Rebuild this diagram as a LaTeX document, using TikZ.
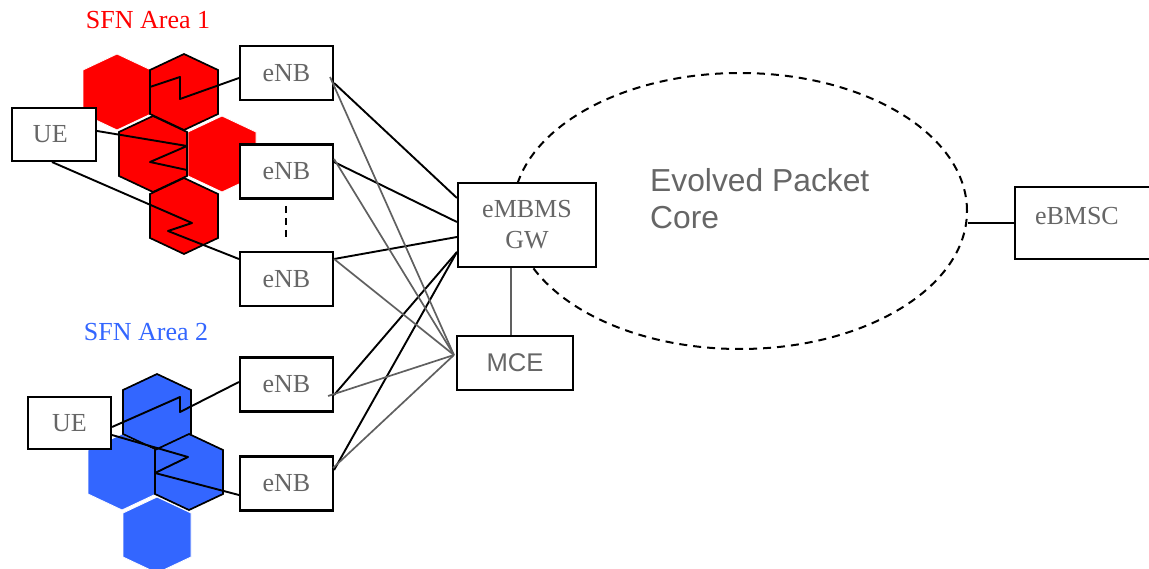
\documentclass[tikz,border=0pt]{standalone}
\usepackage{fontspec}
\setmainfont{Liberation Serif}
\setsansfont{Liberation Sans}
\usepackage{tikz}
\usetikzlibrary{calc}
\usetikzlibrary{shapes.geometric}

\definecolor{rougesfn}{RGB}{255,0,0}
\definecolor{bleusfn}{RGB}{51,102,255}
\definecolor{gristexte}{RGB}{102,102,102}
\definecolor{grislien}{RGB}{96,96,96}

% hexagone : options, centre x, centre y
\newcommand{\hexagone}[3]{\filldraw[#1] (#2,#3-\demihaut) -- (#2+\demilarg,#3-\demicote) -- (#2+\demilarg,#3+\demicote) -- (#2,#3+\demihaut) -- (#2-\demilarg,#3+\demicote) -- (#2-\demilarg,#3-\demicote) -- cycle;}

\begin{document}
\begin{tikzpicture}[x=1pt, y=-1pt,
	boite/.style={draw, line width=2.1pt, fill=white, text=gristexte,
		font=\fontsize{26}{31}\selectfont, inner sep=0pt,
		minimum width=93pt, minimum height=54pt},
	lien/.style={line width=1.9pt, black, line join=round},
	liengris/.style={line width=1.7pt, grislien},
	hexplein/.style={line width=1.7pt, draw=black},
	hexnu/.style={line width=0.8pt, draw=white}]

%%%%%%%%%%%%%%%%%%%%%%
%%%	 Def géométrie  %%%
%%%%%%%%%%%%%%%%%%%%%%

\def \demilarg{34}
\def \demihaut{38}
\def \demicote{22}

\useasboundingbox (0,0) rectangle (1149,569);

%%%%%%%%%%%%%%%%%%%%%%
%%%	    Coeur       %%%
%%%%%%%%%%%%%%%%%%%%%%

\node[draw, ellipse, line width=2pt, dash pattern=on 8pt off 6pt,
	minimum width=454pt, minimum height=276pt, inner sep=0pt] (epc) at (740,211) {};
\node[anchor=north west, align=left, inner sep=0pt, text=gristexte,
	font=\sffamily\fontsize{31.8}{37}\selectfont] (titreepc) at (650,168) {Evolved Packet\\Core};

%%%%%%%%%%%%%%%%%%%%%%
%%%	   Cellules     %%%
%%%%%%%%%%%%%%%%%%%%%%

% Zone SFN 1
\hexagone{fill=rougesfn, hexnu}{117}{92}
\hexagone{fill=rougesfn, hexnu}{222}{154}
\hexagone{fill=rougesfn, hexplein}{184}{92}
\hexagone{fill=rougesfn, hexplein}{153}{154}
\hexagone{fill=rougesfn, hexplein}{184}{216}

% Zone SFN 2
\hexagone{fill=bleusfn, hexnu}{122}{472}
\hexagone{fill=bleusfn, hexnu}{157}{535}
\hexagone{fill=bleusfn, hexplein}{157}{412}
\hexagone{fill=bleusfn, hexplein}{189}{472}

\node[anchor=base, text=rougesfn, font=\fontsize{26}{31}\selectfont] (sfn1) at (148,29) {SFN Area 1};
\node[anchor=base, text=bleusfn, font=\fontsize{26}{31}\selectfont] (sfn2) at (146,341) {SFN Area 2};

%%%%%%%%%%%%%%%%%%%%%%
%%%	    Boites      %%%
%%%%%%%%%%%%%%%%%%%%%%

\node[boite] (enb1) at (286.5,73) {eNB};
\node[boite] (enb2) at (286.5,171.5) {eNB};
\node[boite] (enb3) at (286.5,279) {eNB};
\node[boite] (enb4) at (286.5,384.5) {eNB};
\node[boite] (enb5) at (286.5,483.5) {eNB};

\node[boite, minimum width=84pt, minimum height=53pt, text width=76pt, align=left, inner xsep=4pt] (ue1) at (54,134.5) {\hspace{17pt}UE};
\node[boite, minimum width=83pt, minimum height=52pt] (ue2) at (69.5,423) {UE};

\node[boite, minimum width=138pt, minimum height=84pt, align=center] (gw) at (527,225) {eMBMS\\GW};
\node[boite, minimum width=116pt, font=\sffamily\fontsize{25.6}{30}\selectfont] (mce) at (515,363) {MCE};
\node[boite, minimum width=150pt, minimum height=72pt, text width=110pt, inner xsep=20pt,
	align=left, text depth=14pt] (ebmsc) at (1090,223) {eBMSC};

% les points de suspension entre les eNB
\draw[line width=1.8pt, dash pattern=on 7pt off 5pt] (286,206) -- (286,238);

%%%%%%%%%%%%%%%%%%%%%%
%%%	 Liens radio    %%%
%%%%%%%%%%%%%%%%%%%%%%

\coordinate (bout1) at (150,87);
\draw[lien] ([yshift=-5pt]enb1.west) -- (180,99) -- (180,77) -- (bout1);
\draw[lien] ([yshift=3.5pt]ue1.east) -- (187,146) -- (150,162) -- (187,170);
\draw[lien] ([xshift=-2pt]ue1.south) -- (192,223) -- (168,231) -- ([yshift=20pt]enb3.west);
\draw[lien] ([yshift=2.5pt]enb4.west) -- (180,412) -- (180,397) -- ([yshift=-4pt]ue2.east);
\draw[lien] ([yshift=-12pt]ue2.east) -- (188,457) -- (155,473) -- ([yshift=-11.5pt]enb5.west);

%%%%%%%%%%%%%%%%%%%%%%
%%%	 Liens reseau   %%%
%%%%%%%%%%%%%%%%%%%%%%

% vers la passerelle
\foreach \n/\dep/\arr in {enb1/-10/27, enb2/9.5/3, enb3/20/-12, enb4/-10.5/-27, enb5/13.5/-27}
	\draw[lien] ([yshift=\dep pt]\n.east) -- ([yshift=\arr pt]gw.west);

% vers le MCE
\foreach \n/\dx/\dy in {enb1/-4/-4, enb2/0/12.5, enb3/0/20, enb4/-6/-11.5, enb5/-1/15.5}
	\draw[liengris] ([xshift=\dx pt, yshift=\dy pt]\n.east) -- ([xshift=-2pt, yshift=8pt]mce.west);

\draw[liengris] ([xshift=-4pt]mce.north) -- ([xshift=-4pt]mce.north |- gw.south);
\draw[lien] (ebmsc.west) -- (ebmsc.west -| epc.east);

\end{tikzpicture}
\end{document}
